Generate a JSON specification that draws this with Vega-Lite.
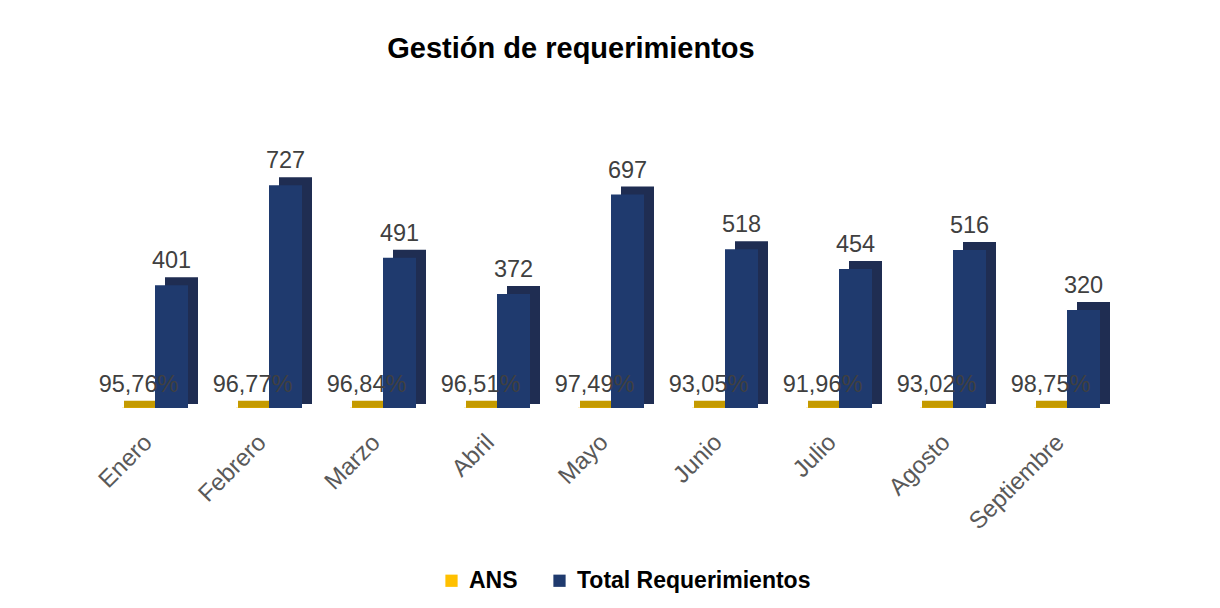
{
  "$schema": "https://vega.github.io/schema/vega-lite/v6.json",
  "autosize": {"type": "none"},
  "padding": {"left": 98, "top": 163, "right": 96, "bottom": 200},
  "width": 1026,
  "height": 245,
  "background": "white",
  "title": {
    "text": "Gestión de requerimientos",
    "font": "Liberation Sans",
    "fontSize": 29,
    "fontWeight": "bold",
    "color": "#000000",
    "anchor": "middle",
    "dx": -40,
    "offset": 85
  },
  "data": {
    "values": [
      {"mes": "Enero", "serie": "ANS", "valor": 0.9576},
      {"mes": "Febrero", "serie": "ANS", "valor": 0.9677},
      {"mes": "Marzo", "serie": "ANS", "valor": 0.9684},
      {"mes": "Abril", "serie": "ANS", "valor": 0.9651},
      {"mes": "Mayo", "serie": "ANS", "valor": 0.9749},
      {"mes": "Junio", "serie": "ANS", "valor": 0.9305},
      {"mes": "Julio", "serie": "ANS", "valor": 0.9196},
      {"mes": "Agosto", "serie": "ANS", "valor": 0.9302},
      {"mes": "Septiembre", "serie": "ANS", "valor": 0.9875},
      {"mes": "Enero", "serie": "Total Requerimientos", "valor": 401},
      {"mes": "Febrero", "serie": "Total Requerimientos", "valor": 727},
      {"mes": "Marzo", "serie": "Total Requerimientos", "valor": 491},
      {"mes": "Abril", "serie": "Total Requerimientos", "valor": 372},
      {"mes": "Mayo", "serie": "Total Requerimientos", "valor": 697},
      {"mes": "Junio", "serie": "Total Requerimientos", "valor": 518},
      {"mes": "Julio", "serie": "Total Requerimientos", "valor": 454},
      {"mes": "Agosto", "serie": "Total Requerimientos", "valor": 516},
      {"mes": "Septiembre", "serie": "Total Requerimientos", "valor": 320}
    ]
  },
  "encoding": {
    "x": {
      "field": "mes",
      "type": "nominal",
      "sort": null,
      "scale": {
        "domain": ["Enero", "Febrero", "Marzo", "Abril", "Mayo", "Junio", "Julio", "Agosto", "Septiembre"],
        "paddingInner": 0,
        "paddingOuter": 0
      },
      "axis": {
        "title": null,
        "domain": false,
        "ticks": false,
        "labelAngle": -45,
        "labelFont": "Liberation Sans",
        "labelFontSize": 24,
        "labelColor": "#595959",
        "labelPadding": 22,
        "labelOffset": -15
      }
    },
    "y": {
      "field": "valor",
      "type": "quantitative",
      "scale": {"domain": [0, 800], "nice": false},
      "axis": null
    }
  },
  "layer": [
    {
      "transform": [{"filter": "datum.serie === 'ANS'"}],
      "mark": {"type": "bar", "width": 36, "color": "#c49a00", "xOffset": -13, "yOffset": -7, "y2Offset": 0},
      "encoding": {"y2": {"datum": 0}}
    },
    {
      "transform": [{"filter": "datum.serie === 'ANS'"}],
      "mark": {"type": "bar", "width": 33, "xOffset": -16.5},
      "encoding": {
        "color": {
          "datum": "ANS",
          "scale": {"domain": ["ANS", "Total Requerimientos"], "range": ["#FFC000", "#1F3A6E"]},
          "legend": {
            "title": null,
            "orient": "none",
            "legendX": 342,
            "legendY": 406,
            "direction": "horizontal",
            "symbolType": "square",
            "symbolSize": 150,
            "symbolStrokeWidth": 0,
            "labelFont": "Liberation Sans",
            "labelFontSize": 23,
            "labelFontWeight": "bold",
            "labelColor": "#000000",
            "labelOffset": 6,
            "labelLimit": 0,
            "columnPadding": 30
          }
        }
      }
    },
    {
      "transform": [{"filter": "datum.serie === 'Total Requerimientos'"}],
      "mark": {"type": "bar", "width": 33, "color": "#1f2d52", "xOffset": 26.5, "yOffset": -8, "y2Offset": -4},
      "encoding": {"y2": {"datum": 0}}
    },
    {
      "transform": [{"filter": "datum.serie === 'Total Requerimientos'"}],
      "mark": {"type": "bar", "width": 33, "xOffset": 16.5},
      "encoding": {
        "color": {"datum": "Total Requerimientos"}
      }
    },
    {
      "transform": [{"filter": "datum.serie === 'Total Requerimientos'"}],
      "mark": {"type": "text", "font": "Liberation Sans", "fontSize": 23.5, "color": "#404040", "xOffset": 16.5, "dy": -24, "baseline": "middle"},
      "encoding": {"text": {"field": "valor", "type": "quantitative", "format": "d"}}
    },
    {
      "transform": [{"filter": "datum.serie === 'ANS'"}],
      "mark": {"type": "text", "font": "Liberation Sans", "fontSize": 23.5, "color": "#404040", "xOffset": -16.5, "dy": -23, "baseline": "middle"},
      "encoding": {"text": {"field": "valor", "type": "quantitative", "format": ".2%"}}
    }
  ],
  "config": {
    "view": {"stroke": null},
    "locale": {"number": {"decimal": ",", "thousands": ".", "grouping": [3], "currency": ["", " €"]}}
  }
}
